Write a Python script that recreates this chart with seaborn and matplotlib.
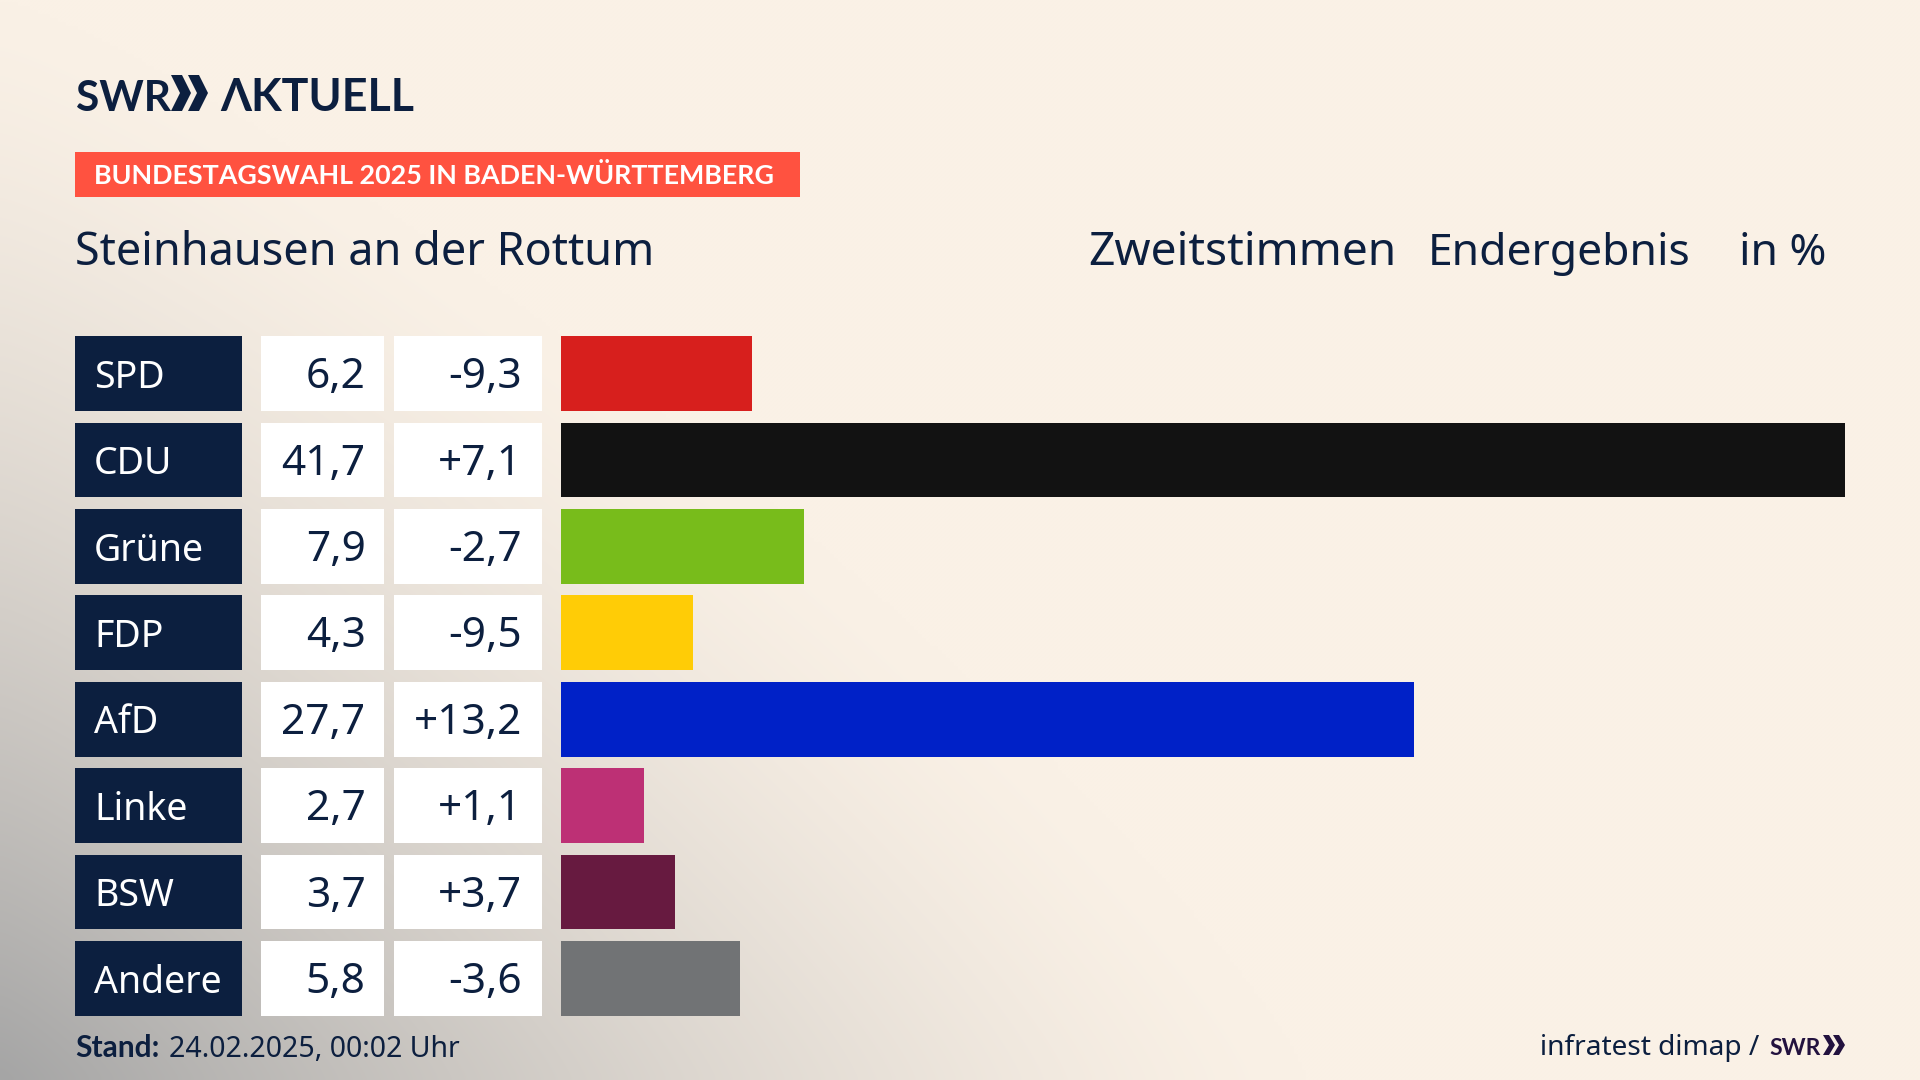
import numpy as np
import pandas as pd
import matplotlib
matplotlib.use('Agg')
import matplotlib.pyplot as plt
from matplotlib.patches import Polygon, Rectangle
import seaborn as sns

sns.set_theme(style='white')
plt.rcParams['font.family'] = ['Noto Sans', 'DejaVu Sans']
BOLD = ['Lato', 'Liberation Sans', 'DejaVu Sans']

parties = ['SPD', 'CDU', 'Grüne', 'FDP', 'AfD', 'Linke', 'BSW', 'Andere']
shares = [6.2, 41.7, 7.9, 4.3, 27.7, 2.7, 3.7, 5.8]
share_labels = ['6,2', '41,7', '7,9', '4,3', '27,7', '2,7', '3,7', '5,8']
diff_labels = ['-9,3', '+7,1', '-2,7', '-9,5', '+13,2', '+1,1', '+3,7', '-3,6']
colors = ['#D71F1D', '#121212', '#78BC1B', '#FFCC06', '#0021C7', '#BD3075',
          '#671A40', '#717375']

NAVY = '#0C1F3F'
W, H = 1920, 1080
ROW_TOP, ROW_H = 330.4, 86.4
BAR_KW = dict(saturation=1, width=0.865, edgecolor='none', linewidth=0)


def col_axes(x0, x1):
    top = ROW_TOP
    bottom = ROW_TOP + 8 * ROW_H
    ax = fig.add_axes([x0 / W, 1 - bottom / H, (x1 - x0) / W, (bottom - top) / H])
    ax.patch.set_alpha(0)
    return ax


def clean(ax, xmax):
    ax.set_xlim(0, xmax)
    ax.set_ylim(7.5, -0.5)
    ax.axis('off')


def chevrons(bg, x, top, bottom, w, t, gap, color):
    mid = (top + bottom) / 2
    for k in range(2):
        x0 = x + k * gap
        pts = [(x0, top), (x0 + t, top), (x0 + w, mid), (x0 + t, bottom),
               (x0, bottom), (x0 + w - t, mid)]
        bg.add_patch(Polygon(pts, closed=True, fc=color, ec='none'))


fig = plt.figure(figsize=(19.2, 10.8), dpi=100)

# backdrop, full figure in pixel coordinates
bg = fig.add_axes([0, 0, 1, 1])
yy, xx = np.mgrid[0:1:270j, 0:1:480j]
d = ((xx / 0.68) ** 1.2 + ((1 - yy) / 1.0) ** 1.2) ** (1 / 1.2)
mix = np.clip(1 - d, 0, 1) ** 1.4
cream = np.array([250, 241, 230]) / 255
grey = np.array([165, 165, 165]) / 255
img = cream + (grey - cream) * mix[..., None]
bg.imshow(img, extent=[0, W, H, 0], aspect='auto', interpolation='bilinear')
bg.set_xlim(0, W)
bg.set_ylim(H, 0)
bg.axis('off')

# header
bg.text(76, 111, 'SWR', fontsize=30.5, fontweight='bold', family=BOLD, color=NAVY)
chevrons(bg, 171, 75, 111, 20, 11, 17, NAVY)
bg.text(220, 111, 'ΛKTUELL', fontsize=32.2, fontweight='bold', family=BOLD, color=NAVY)
bg.add_patch(Rectangle((75, 152), 725, 45, fc='#FF5240', ec='none'))
bg.text(94, 184, 'BUNDESTAGSWAHL 2025 IN BADEN-WÜRTTEMBERG', fontsize=19.4,
        fontweight='bold', family=BOLD, color='white')
bg.text(75, 264.7, 'Steinhausen an der Rottum', fontsize=32.4, color=NAVY)
bg.text(1088, 264.7, 'Zweitstimmen', fontsize=33.2, color=NAVY)
bg.text(1428, 264.7, 'Endergebnis', fontsize=32, color=NAVY)
bg.text(1739, 264.7, 'in %', fontsize=32, color=NAVY)

# columns
df = pd.DataFrame({'party': parties, 'share': shares, 'full': [1] * 8})

ax_name = col_axes(75, 242)
sns.barplot(data=df, y='party', x='full', color=NAVY, ax=ax_name, **BAR_KW)
clean(ax_name, 1)
ax_val = col_axes(261, 384)
sns.barplot(data=df, y='party', x='full', color='white', ax=ax_val, **BAR_KW)
clean(ax_val, 1)
ax_diff = col_axes(394, 542)
sns.barplot(data=df, y='party', x='full', color='white', ax=ax_diff, **BAR_KW)
clean(ax_diff, 1)
ax_bar = col_axes(561, 1845)
sns.barplot(data=df, y='party', x='share', hue='party', palette=colors, legend=False,
            ax=ax_bar, **BAR_KW)
clean(ax_bar, 41.7)

for i in range(len(parties)):
    ax_name.text(0.115, i + 0.165, parties[i], fontsize=27, color='white')
    ax_val.text(0.85, i + 0.17, share_labels[i], fontsize=30.5, color=NAVY, ha='right')
    ax_diff.text(0.865, i + 0.17, diff_labels[i], fontsize=30.5, color=NAVY, ha='right')

# footer
bg.text(75, 1057, 'Stand:', fontsize=21.5, fontweight='bold', family=BOLD, color=NAVY)
bg.text(169, 1057, '24.02.2025, 00:02 Uhr', fontsize=20.5, color=NAVY)
bg.text(1540, 1055, 'infratest dimap /', fontsize=20.2, color=NAVY)
bg.text(1769, 1055, 'SWR', fontsize=16.5, fontweight='bold', family=BOLD, color='#23123F')
chevrons(bg, 1823, 1035, 1055, 12, 6, 10, '#23123F')

fig.savefig('out.png', dpi=100)
